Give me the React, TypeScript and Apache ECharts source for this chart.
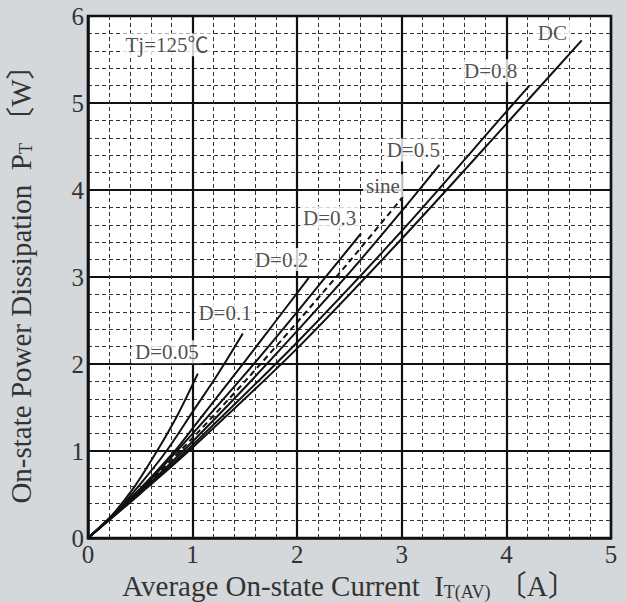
import React, { useEffect, useRef } from "react";
import * as echarts from "echarts";

// ---- data ----
const curveNames = ["D=0.05", "D=0.1", "D=0.2", "D=0.3", "sine", "D=0.5", "D=0.8", "DC"];

const d005 = [[0, 0], [0.2, 0.22], [0.45, 0.6], [0.66, 1.0], [0.85, 1.4], [1.05, 1.89]];
const d01 = [[0, 0], [0.25, 0.28], [0.5, 0.62], [0.75, 1.0], [1.0, 1.45], [1.25, 1.9], [1.48, 2.35]];
const d02 = [[0, 0], [0.5, 0.57], [0.83, 1.0], [1.0, 1.26], [1.5, 2.03], [2.11, 2.99]];
const d03 = [[0, 0], [0.5, 0.55], [1.0, 1.2], [1.5, 1.88], [2.0, 2.6], [2.61, 3.5]];
const sine = [[0, 0], [0.5, 0.54], [1.0, 1.15], [1.5, 1.8], [2.0, 2.48], [2.5, 3.18], [3.01, 3.92]];
const d05 = [[0, 0], [0.5, 0.53], [1.0, 1.11], [1.5, 1.73], [2.0, 2.38], [2.5, 3.05], [3.0, 3.76], [3.36, 4.29]];
const d08 = [[0, 0], [0.5, 0.52], [1.0, 1.07], [2.0, 2.25], [3.0, 3.53], [4.0, 4.9], [4.22, 5.2]];
const dc = [[0, 0], [0.5, 0.51], [1.0, 1.04], [2.0, 2.18], [3.0, 3.44], [4.0, 4.76], [4.72, 5.72]];

const curveData = [d005, d01, d02, d03, sine, d05, d08, dc];

const labelTexts = ["Tj=125℃", "DC", "D=0.8", "D=0.5", "sine", "D=0.3", "D=0.2", "D=0.1", "D=0.05"];
const labelX = [0.755, 4.44, 3.85, 3.11, 2.82, 2.31, 1.85, 1.31, 0.755];
const labelY = [5.67, 5.8, 5.37, 4.46, 4.05, 3.68, 3.2, 2.59, 2.14];

const xMin = 0, xMax = 5, xStep = 1;
const yMin = 0, yMax = 6, yStep = 1;

const FONT = "'Liberation Serif', 'Noto Sans CJK JP', serif";

export default function App() {
  const ref = useRef<HTMLDivElement>(null);
  useEffect(() => {
    document.body.style.margin = "0";
    const chart = echarts.init(ref.current!, null, { renderer: "svg" });
    const lineSeries = curveNames.map((name, i) => ({
      type: "line",
      name,
      data: curveData[i],
      smooth: 0.3,
      showSymbol: false,
      symbol: "none",
      lineStyle: {
        color: "#111",
        width: 2,
        type: name === "sine" ? [6, 4] : "solid",
      },
      z: 3,
    }));
    const labelSeries = {
      type: "scatter",
      name: "labels",
      data: labelTexts.map((t, i) => ({ value: [labelX[i], labelY[i]], name: t })),
      symbolSize: 1,
      itemStyle: { color: "rgba(0,0,0,0)" },
      z: 10,
      label: {
        show: true,
        position: "inside",
        formatter: (p: any) => p.name,
        fontFamily: FONT,
        fontSize: 21,
        color: "#222",
        backgroundColor: "#fff",
        padding: [1, 3, 1, 3],
      },
      labelLayout: { hideOverlap: false },
    };
    const nameStyle = {
      fontFamily: FONT,
      fontSize: 29,
      color: "#333",
      rich: {
        s: { fontFamily: FONT, fontSize: 18, color: "#333", verticalAlign: "bottom", padding: [8, 0, 0, 0] },
      },
    };
    chart.setOption({
      animation: false,
      backgroundColor: "#d5d8db",
      grid: {
        left: 88,
        top: 16,
        width: 523,
        height: 522,
        show: true,
        containLabel: false,
        outerBoundsMode: "none",
        backgroundColor: "#fff",
        borderColor: "#111",
        borderWidth: 2.5,
      },
      xAxis: {
        type: "value",
        min: xMin,
        max: xMax,
        interval: xStep,
        axisLine: { show: true, lineStyle: { color: "#111", width: 2.5 } },
        axisTick: { show: false },
        axisLabel: { fontFamily: FONT, fontSize: 25, color: "#333", margin: 4 },
        splitLine: { show: true, lineStyle: { color: "#111", width: 2.2 } },
        minorTick: { show: false, splitNumber: 5 },
        minorSplitLine: { show: true, lineStyle: { color: "#333", width: 1, type: [4, 3] } },
        name: "Average On-state Current  I{s|T(AV)} 〔A〕",
        nameLocation: "middle",
        nameGap: 32,
        nameTextStyle: nameStyle,
      },
      yAxis: {
        type: "value",
        min: yMin,
        max: yMax,
        interval: yStep,
        axisLine: { show: true, lineStyle: { color: "#111", width: 2.5 } },
        axisTick: { show: false },
        axisLabel: { fontFamily: FONT, fontSize: 25, color: "#333", margin: 4 },
        splitLine: { show: true, lineStyle: { color: "#111", width: 2.2 } },
        minorTick: { show: false, splitNumber: 5 },
        minorSplitLine: { show: true, lineStyle: { color: "#333", width: 1, type: [4, 3] } },
        name: "On-state Power Dissipation  P{s|T} 〔W〕",
        nameLocation: "middle",
        nameGap: 53,
        nameTextStyle: nameStyle,
      },
      series: [...lineSeries, labelSeries],
    });
    return () => chart.dispose();
  }, []);
  return <div ref={ref} style={{ width: 626, height: 602 }} />;
}
